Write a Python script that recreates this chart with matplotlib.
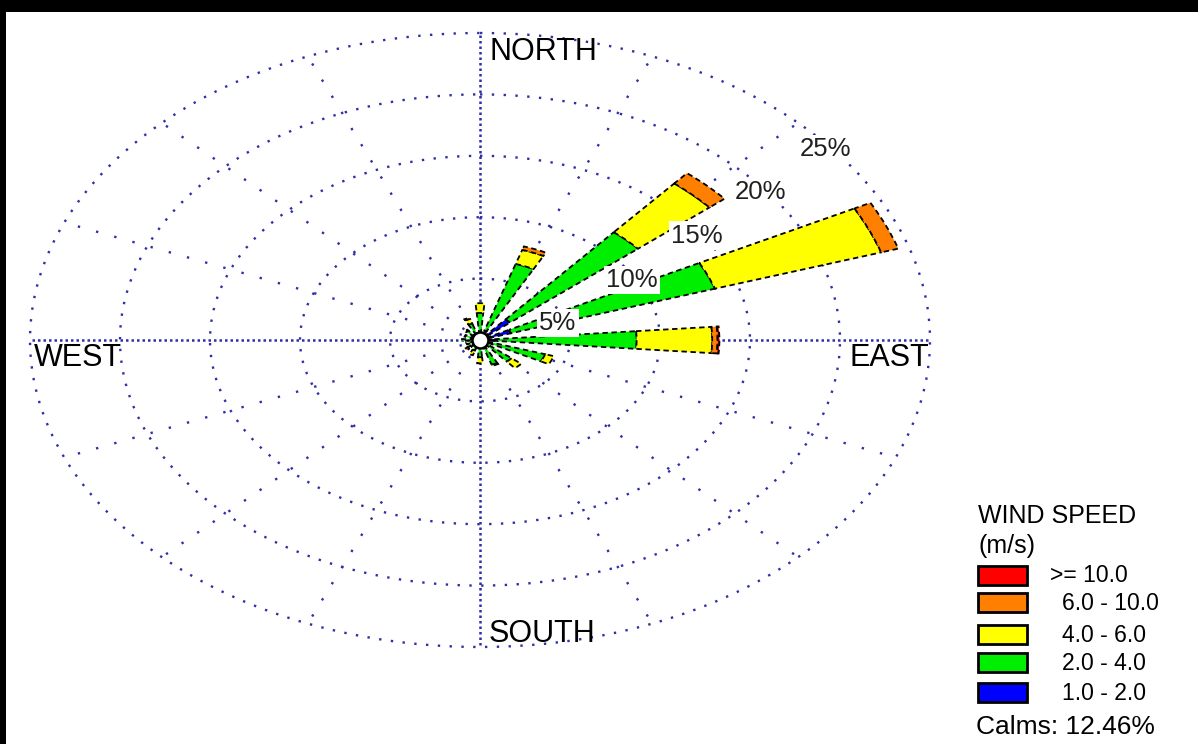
import numpy as np
import matplotlib
matplotlib.use('Agg')
import matplotlib.pyplot as plt
from matplotlib.patches import Rectangle

# ---------------- data ----------------
directions = ['N', 'NNE', 'NE', 'ENE', 'E', 'ESE', 'SE', 'SSE',
              'S', 'SSW', 'SW', 'WSW', 'W', 'WNW', 'NW', 'NNW']
bearings = [0, 22.5, 45, 67.5, 90, 112.5, 135, 157.5,
            180, 202.5, 225, 247.5, 270, 292.5, 315, 337.5]

# frequency (%) per speed class and direction
speed_1_2 = [0.6, 0.8, 2.2, 1.8, 0.8, 0.6, 0.5, 0.5, 0.4, 0.3, 0.3, 0.3, 0.3, 0.3, 0.3, 0.3]
speed_2_4 = [1.6, 5.7, 9.3, 11.9, 7.9, 3.2, 1.8, 1.6, 1.0, 0.6, 0.4, 0.5, 0.7, 0.6, 0.7, 1.1]
speed_4_6 = [0.8, 1.2, 5.2, 9.7, 4.2, 0.5, 0.7, 0.1, 0.5, 0.4, 0.2, 0.0, 0.0, 0.0, 0.1, 0.4]
speed_6_10 = [0.0, 0.3, 1.1, 1.0, 0.3, 0.0, 0.0, 0.0, 0.0, 0.0, 0.2, 0.0, 0.0, 0.0, 0.0, 0.1]
speed_10_up = [0.0, 0.0, 0.0, 0.0, 0.1, 0.0, 0.0, 0.0, 0.0, 0.0, 0.0, 0.0, 0.0, 0.0, 0.0, 0.0]

class_labels = ['1.0 - 2.0', '2.0 - 4.0', '4.0 - 6.0', '6.0 - 10.0', '>= 10.0']
class_colors = ['#0000ff', '#00ee00', '#ffff00', '#ff8000', '#ff0000']

ring_values = [5, 10, 15, 20, 25]
ring_labels = ['5%', '10%', '15%', '20%', '25%']
calms_pct = 12.46

# ---------------- figure ----------------
W, H = 1198, 744
fig = plt.figure(figsize=(W / 100, H / 100), dpi=100)
fig.patch.set_facecolor('white')
plt.rcParams['font.family'] = ['Liberation Sans', 'DejaVu Sans']

def px(x, y):
    return x / W, 1 - y / H

cx, cy = 480, 340
rx, ry = 450, 307
ax = fig.add_axes([(cx - rx) / W, (H - cy - ry) / H, 2 * rx / W, 2 * ry / H],
                  projection='polar')
ax.set_aspect('auto')
ax.set_theta_zero_location('N')
ax.set_theta_direction(-1)
ax.set_ylim(0, max(ring_values))
ax.axis('off')

gridc = '#2e2ea6'
th = np.linspace(0, 2 * np.pi, 721)
for r in ring_values:
    ax.plot(th, np.full_like(th, r), color=gridc, lw=1.7,
            ls=(0, (1, 4)), clip_on=False, zorder=1)

for b in bearings:
    t = np.deg2rad(b)
    if b % 90 == 0:
        ax.plot([t, t], [0, max(ring_values)], color=gridc, lw=1.8,
                ls=(0, (1, 1.2)), clip_on=False, zorder=1)
    else:
        ax.plot([t, t], [0, max(ring_values)], color=gridc, lw=1.7,
                ls=(0, (1, 7)), clip_on=False, zorder=1)

theta = np.deg2rad(np.array(bearings))
series = [speed_1_2, speed_2_4, speed_4_6, speed_6_10, speed_10_up]
bottom = np.zeros(len(bearings))
for vals, col in zip(series, class_colors):
    v = np.array(vals)
    m = v > 0
    ax.bar(theta[m], v[m], width=np.deg2rad(9.5), bottom=bottom[m],
           color=col, edgecolor='black', linewidth=1.3,
           linestyle=(0, (3, 2)), zorder=3, align='center')
    bottom += v

# calm circle
ax.scatter([0], [0], s=(16 * 0.72) ** 2, c='white', edgecolors='black',
           linewidths=1.8, zorder=5)

# ring labels
label_bearing = [72.2, 59.9, 54.8, 52.2, 50.9]
label_radius = [4.55, 9.77, 14.76, 19.7, 24.7]
for lab, b, r in zip(ring_labels, label_bearing, label_radius):
    ax.text(np.deg2rad(b), r, lab, ha='center', va='center', fontsize=18.5,
            color='#202020', zorder=6,
            bbox=dict(facecolor='white', edgecolor='none', pad=1.5))

# cardinal labels
fig.text(*px(489, 60), 'NORTH', fontsize=22, ha='left', va='baseline')
fig.text(*px(34, 366), 'WEST', fontsize=22, ha='left', va='baseline')
fig.text(*px(929, 366), 'EAST', fontsize=22, ha='right', va='baseline')
fig.text(*px(489, 642), 'SOUTH', fontsize=22, ha='left', va='baseline')

# legend
fig.text(*px(978, 523), 'WIND SPEED', fontsize=18, ha='left', va='baseline')
fig.text(*px(978, 553), '(m/s)', fontsize=18, ha='left', va='baseline')
box_tops = [683, 653, 625, 593, 566]
text_x = [1062, 1062, 1062, 1062, 1050]
for lab, col, top, tx in zip(class_labels, class_colors, box_tops, text_x):
    x0, y0 = px(978, top + 19)
    fig.add_artist(Rectangle((x0, y0), 49 / W, 19 / H, transform=fig.transFigure,
                             facecolor=col, edgecolor='black', linewidth=2))
    fig.text(*px(tx, top + 10), lab, fontsize=16.5, ha='left', va='center')
fig.text(*px(976, 734), 'Calms: %.2f%%' % calms_pct, fontsize=19,
         ha='left', va='baseline')

# frame
fig.add_artist(Rectangle(px(0, 12), 1, 12 / H, transform=fig.transFigure,
                         facecolor='black', edgecolor='none'))
fig.add_artist(Rectangle(px(0, 744), 6 / W, 1, transform=fig.transFigure,
                         facecolor='black', edgecolor='none'))

fig.savefig('out.png', dpi=100)
